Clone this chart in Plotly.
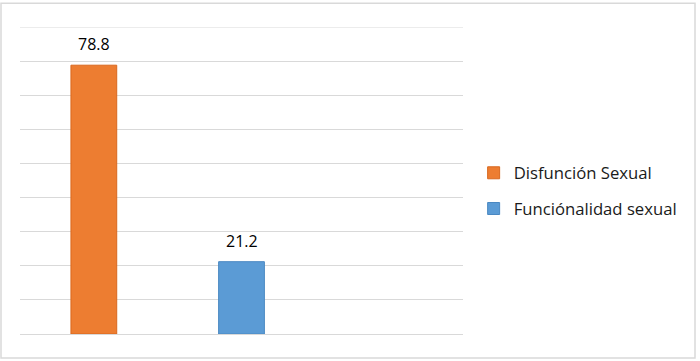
import plotly.graph_objects as go

categories = ["Disfunción Sexual", "Funciónalidad sexual", " "]
series_names = ["Disfunción Sexual", "Funciónalidad sexual"]
values = [78.8, 21.2]
colors = ["#ED7D31", "#5B9BD5"]
edge_colors = ["#D9681F", "#4A88C2"]

fig = go.Figure()
for i, (name, v) in enumerate(zip(series_names, values)):
    fig.add_trace(go.Bar(
        x=[categories[i]], y=[v], name=name,
        marker=dict(color=colors[i], line=dict(color=edge_colors[i], width=1)),
        width=0.31, legendgroup=name, showlegend=True,
        hoverinfo="skip",
    ))
    fig.add_annotation(x=categories[i], y=v, text=f"{v:.1f}", showarrow=False,
                       yanchor="bottom", yshift=8,
                       font=dict(family="Open Sans, sans-serif", size=16, color="#000000"))

fig.update_layout(
    width=700, height=361,
    margin=dict(l=20, r=237, t=27, b=27),
    paper_bgcolor="white", plot_bgcolor="white",
    barmode="overlay",
    showlegend=True,
    legend=dict(x=1.024, xanchor="left", y=0.466, yanchor="middle",
                font=dict(family="Open Sans, sans-serif", size=16.7, color="#1a1a1a"),
                tracegroupgap=11, bgcolor="rgba(0,0,0,0)"),
    xaxis=dict(categoryorder="array", categoryarray=categories, range=[-0.5, 2.5],
               showticklabels=False, showgrid=False, zeroline=False, ticks="",
               showline=False, fixedrange=True),
    yaxis=dict(range=[0, 90], dtick=10, showticklabels=False, showgrid=True,
               gridcolor="#D9D9D9", gridwidth=1, zeroline=True, zerolinecolor="#D9D9D9",
               zerolinewidth=1, ticks="", showline=False, fixedrange=True),
)

fig.add_shape(type="line", xref="paper", yref="y", x0=0, x1=1, y0=90, y1=90,
              line=dict(color="#D9D9D9", width=1), layer="below")
fig.add_shape(type="rect", xref="paper", yref="paper",
              x0=-0.0429, x1=1.5237, y0=-0.078, y1=1.077,
              line=dict(color="#D9D9D9", width=1.5), fillcolor="rgba(0,0,0,0)")

fig.write_html("out.html", config={"displayModeBar": False},
               post_script="document.body.style.margin='0';")
